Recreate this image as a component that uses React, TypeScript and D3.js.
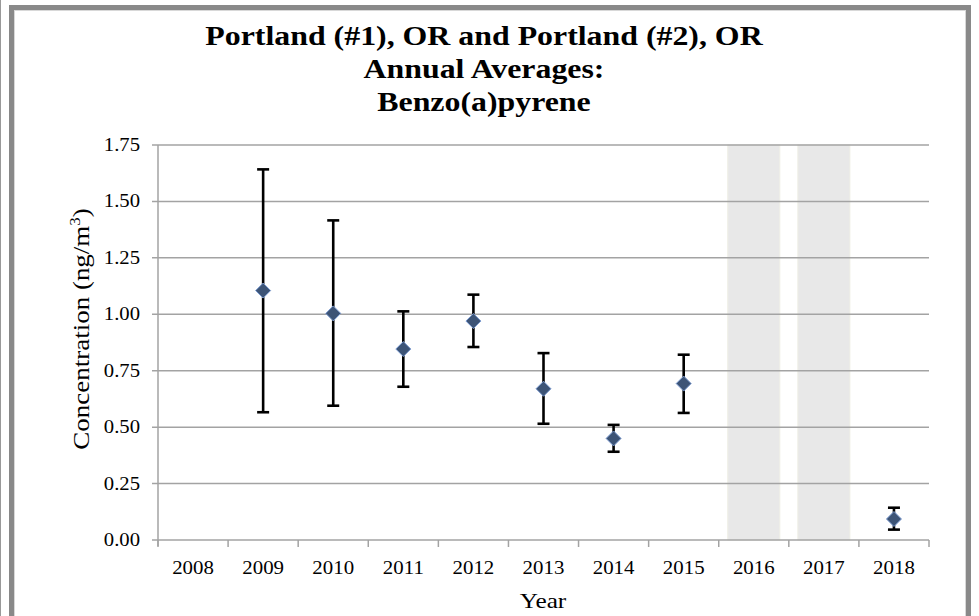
import React from "react";
import * as d3 from "d3";

const years = ["2008", "2009", "2010", "2011", "2012", "2013", "2014", "2015", "2016", "2017", "2018"];
const dataYears = ["2009", "2010", "2011", "2012", "2013", "2014", "2015", "2018"];
const means = [1.105, 1.004, 0.846, 0.97, 0.67, 0.45, 0.693, 0.093];
const upper = [1.642, 1.416, 1.013, 1.087, 0.828, 0.51, 0.821, 0.143];
const lower = [0.566, 0.595, 0.679, 0.855, 0.515, 0.391, 0.563, 0.046];
const noDataYears = ["2016", "2017"];
const yTicks = [0, 0.25, 0.5, 0.75, 1.0, 1.25, 1.5, 1.75];
const titleLines = ["Portland (#1), OR and Portland (#2), OR", "Annual Averages:", "Benzo(a)pyrene"];

const W = 979;
const H = 616;
const plot = { left: 158, right: 929, top: 145, bottom: 540 };
const FONT = "'Liberation Serif', 'Times New Roman', serif";

export default function App() {
  const x = d3.scaleBand<string>().domain(years).range([plot.left, plot.right]).padding(0);
  const y = d3.scaleLinear().domain([0, 1.75]).range([plot.bottom, plot.top]);
  const bw = x.bandwidth();
  const boundaries = years.map((yr) => x(yr) as number).concat([plot.right]);
  const dpath = "M0,-7.5L7.5,0L0,7.5L-7.5,0Z";

  return (
    <svg
      width={W}
      height={H}
      style={{ position: "absolute", left: 0, top: 0, background: "#fff" }}
      fontFamily={FONT}
    >
      <rect x={0} y={0} width={W} height={H} fill="#fff" />
      <line x1={0.5} y1={0} x2={0.5} y2={H} stroke="#999" strokeWidth={1} />
      <rect x={11.5} y={7.5} width={957} height={640} fill="none" stroke="#898989" strokeWidth={5} />
      <rect x={14.5} y={10.5} width={951} height={640} fill="none" stroke="#d8d8d8" strokeWidth={1} />

      {/* Title */}
      {titleLines.map((t, i) => (
        <text
          key={i}
          transform={`translate(484,${45 + i * 33}) scale(1.18,1)`}
          textAnchor="middle"
          fontSize={27}
          fontWeight="bold"
          fill="#000"
        >
          {t}
        </text>
      ))}

      {/* no-data shading */}
      {noDataYears.map((yr) => (
        <rect
          key={yr}
          x={(x(yr) as number) + 9}
          y={plot.top}
          width={bw - 18}
          height={plot.bottom - plot.top}
          fill="#e8e8e8"
          stroke="#efefe6"
          strokeWidth={1}
        />
      ))}

      {/* grid lines */}
      {yTicks.map((v) => (
        <line
          key={v}
          x1={plot.left - 6}
          x2={plot.right}
          y1={y(v)}
          y2={y(v)}
          stroke="#a3a3a3"
          strokeWidth={1.5}
        />
      ))}
      {/* y axis line */}
      <line x1={plot.left} x2={plot.left} y1={plot.top} y2={plot.bottom + 6} stroke="#a3a3a3" strokeWidth={1.5} />
      {/* x ticks */}
      {boundaries.map((bx, i) => (
        <line key={i} x1={bx} x2={bx} y1={plot.bottom} y2={plot.bottom + 7} stroke="#a3a3a3" strokeWidth={1.5} />
      ))}

      {/* y tick labels */}
      {yTicks.map((v) => (
        <text
          key={v}
          transform={`translate(140,${y(v) + 6}) scale(1.15,1)`}
          textAnchor="end"
          fontSize={18}
          fill="#000"
        >
          {d3.format(".2f")(v)}
        </text>
      ))}

      {/* x tick labels */}
      {years.map((yr) => (
        <text
          key={yr}
          transform={`translate(${(x(yr) as number) + bw / 2},${plot.bottom + 34}) scale(1.1,1)`}
          textAnchor="middle"
          fontSize={19}
          fill="#000"
        >
          {yr}
        </text>
      ))}

      {/* axis titles */}
      <text transform={`translate(543,608) scale(1.15,1)`} textAnchor="middle" fontSize={22} fill="#000">
        Year
      </text>
      <text transform={`translate(89,329) rotate(-90) scale(1.2,1)`} textAnchor="middle" fontSize={22.5} fill="#000">
        Concentration (ng/m<tspan dy={-9} fontSize={14}>3</tspan><tspan dy={9}>)</tspan>
      </text>

      {/* error bars */}
      {dataYears.map((yr, i) => {
        const cx = (x(yr) as number) + bw / 2;
        return (
          <g key={yr} stroke="#000" strokeWidth={2.6}>
            <line x1={cx} x2={cx} y1={y(upper[i])} y2={y(lower[i])} />
            <line x1={cx - 6} x2={cx + 6} y1={y(upper[i])} y2={y(upper[i])} />
            <line x1={cx - 6} x2={cx + 6} y1={y(lower[i])} y2={y(lower[i])} />
          </g>
        );
      })}

      {/* points */}
      {dataYears.map((yr, i) => {
        const cx = (x(yr) as number) + bw / 2;
        return (
          <path
            key={yr}
            d={dpath}
            transform={`translate(${cx},${y(means[i])})`}
            fill="#3d5476"
            stroke="#7c9bd0"
            strokeWidth={1}
          />
        );
      })}
    </svg>
  );
}
